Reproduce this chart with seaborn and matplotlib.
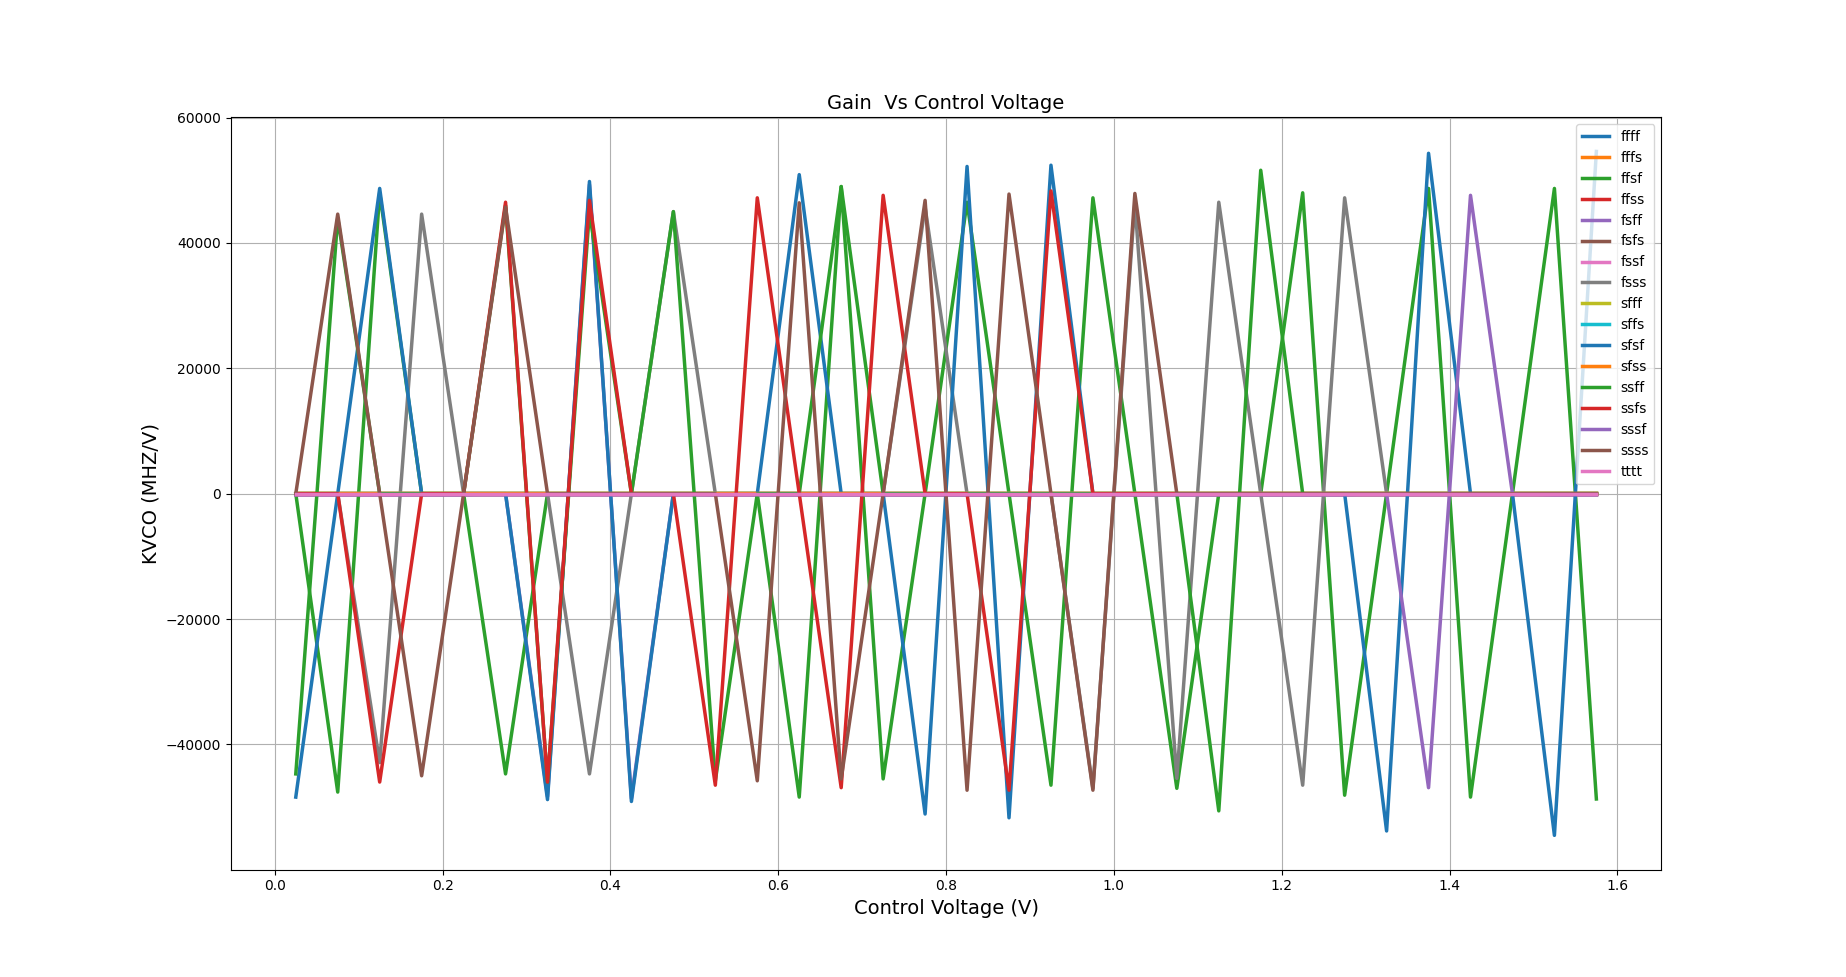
"""Gain (KVCO) vs control voltage for the process corners."""

import matplotlib
matplotlib.use("Agg")
import matplotlib.pyplot as plt
import seaborn as sns

# control voltage sweep (V)
vctrl = [0.025, 0.075, 0.125, 0.175, 0.225, 0.275, 0.325, 0.375,
         0.425, 0.475, 0.525, 0.575, 0.625, 0.675, 0.725, 0.775,
         0.825, 0.875, 0.925, 0.975, 1.025, 1.075, 1.125, 1.175,
         1.225, 1.275, 1.325, 1.375, 1.425, 1.475, 1.525, 1.575]

# KVCO (MHz/V) per corner
ffff = [0, 0, 0, 0, 0, 0, 0, 0, 0, 0, 0, 0, 0, 0, 0, 0,
        0, 0, 0, 0, 0, 0, 0, 0, 0, 0, 0, 0, 0, 0, 0, 0]
fffs = [150, 150, 150, 150, 150, 150, 150, 150, 150, 150, 150, 150, 150, 150, 150, 150,
        150, 150, 150, 150, 150, 150, 150, 150, 150, 150, 150, 150, 150, 150, 150, 150]
ffsf = [0, -47600, 48000, 0, 0, -44700, 0, 0, 0, 0, 0, 0, -48400, 49000, -45500, 0,
        46500, 0, -46500, 47200, 0, -47000, 0, 0, 48000, -48100, 0, 48700, -48400, 0, 48700, -48700]
ffss = [0, 0, 0, 0, 0, 0, 0, 0, 0, 0, 0, 0, 0, 0, 0, 0,
        0, 0, 0, 0, 0, 0, 0, 0, 0, 0, 0, 0, 0, 0, 0, 0]
fsff = [-150, -150, -150, -150, -150, 0, -48300, 49300, -48600, 0, -150, -150, -150, -150, -150, -150,
        -150, -150, -150, -150, -150, -150, -150, -150, -150, -150, -150, -150, -150, -150, -150, -150]
fsfs = [0, 0, 0, 0, 0, 0, 0, 0, 0, 0, 0, 0, 0, 0, 0, 0,
        0, 0, 0, 0, 0, 0, 0, 0, 0, 0, 0, 0, 0, 0, 0, 0]
fssf = [0, 0, 0, 0, 0, 0, 0, 0, 0, 0, 0, 0, 0, 0, 0, 0,
        0, 0, 0, 0, 0, 0, 0, 0, 0, 0, 0, 0, 0, 0, 0, 0]
fsss = [0, 0, -42900, 44600, 0, 0, 0, -44700, 0, 45000, 0, 0, 0, 0, 0, 45700,
        0, 0, 0, -47000, 46400, -45400, 46500, 0, -46500, 47200, 0, 0, 0, 0, 0, 0]
sfff = [150, 150, 150, 150, 150, 150, 150, 150, 150, 150, 150, 150, 150, 150, 150, 150,
        150, 150, 150, 150, 150, 150, 150, 150, 150, 150, 150, 150, 150, 150, 150, 150]
sffs = [100, 100, 100, 100, 100, 100, 100, 100, 100, 100, 100, 100, 100, 100, 100, 100,
        100, 100, 100, 100, 100, 100, 100, 100, 100, 100, 100, 100, 100, 100, 100, 100]
sfsf = [-48400, 0, 48700, 0, 0, 0, -48800, 49800, -49100, 0, 0, 0, 50900, 0, 0, -51100,
        52200, -51700, 52400, 0, 0, 0, 0, 0, 0, 0, -53800, 54300, 0, 0, -54500, 54600]
sfss = [150, 150, 150, 150, 150, 150, 150, 150, 150, 150, 150, 150, 150, 150, 150, 150,
        150, 150, 150, 150, 150, 150, 150, 150, 150, 150, 150, 150, 150, 150, 150, 150]
ssff = [-44700, 44000, 0, 0, 0, 46000, -46000, 45000, 0, 45000, -45800, 0, 0, 49000, 0, 0,
        0, 0, 0, 0, 0, 0, -50600, 51600, 0, 0, 0, 0, 0, 0, 0, 0]
ssfs = [0, 0, -46000, 0, 0, 46500, -46000, 46800, 0, 0, -46500, 47200, 0, -46900, 47600, 0,
        0, -47300, 48300, 0, 0, 0, 0, 0, 0, 0, 0, 0, 0, 0, 0, 0]
sssf = [-150, -150, -150, -150, -150, -150, -150, -150, -150, -150, -150, -150, -150, -150, -150, -150,
        -150, -150, -150, -150, -150, -150, -150, -150, -150, -150, 0, -46900, 47600, 0, -150, -150]
ssss = [0, 44600, 0, -45000, 0, 45700, 0, 0, 0, 0, 0, -45800, 46400, -45500, 0, 46800,
        -47300, 47800, 0, -47300, 47900, 0, 0, 0, 0, 0, 0, 0, 0, 0, 0, 0]
tttt = [0, 0, 0, 0, 0, 0, 0, 0, 0, 0, 0, 0, 0, 0, 0, 0,
        0, 0, 0, 0, 0, 0, 0, 0, 0, 0, 0, 0, 0, 0, 0, 0]

corners = ["ffff", "fffs", "ffsf", "ffss", "fsff", "fsfs", "fssf", "fsss",
           "sfff", "sffs", "sfsf", "sfss", "ssff", "ssfs", "sssf", "ssss", "tttt"]
kvco = [ffff, fffs, ffsf, ffss, fsff, fsfs, fssf, fsss,
        sfff, sffs, sfsf, sfss, ssff, ssfs, sssf, ssss, tttt]


def plot_gain() -> None:
    fig, ax = plt.subplots(figsize=(18.46, 9.77), dpi=100)
    colors = sns.color_palette("tab10", 10)

    for i, (name, vals) in enumerate(zip(corners, kvco)):
        sns.lineplot(x=vctrl, y=vals, ax=ax, color=colors[i % 10],
                     linewidth=2.5, label=name)

    ax.set_title("Gain  Vs Control Voltage", fontsize=14)
    ax.set_xlabel("Control Voltage (V)", fontsize=14)
    ax.set_ylabel("KVCO (MHZ/V)", fontsize=14)
    ax.grid(True)
    ax.legend(loc="upper right")

    fig.savefig("out.png", dpi=100)
    plt.close(fig)


if __name__ == "__main__":
    plot_gain()
